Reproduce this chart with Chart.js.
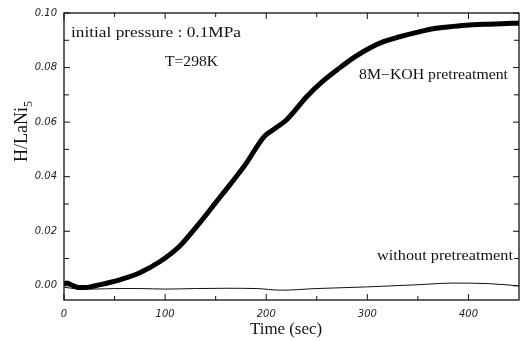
<!DOCTYPE html>
<html>
<head>
<meta charset="utf-8">
<script src="https://cdn.jsdelivr.net/npm/chart.js@4"></script>
<style>
html,body{margin:0;padding:0;background:#fff;}
#wrap{width:520px;height:341px;position:relative;}
</style>
</head>
<body>
<div id="wrap"><canvas id="c" width="520" height="341"></canvas></div>
<script>
// 8M-KOH pretreatment curve
const timeKOH = [0, 3, 8, 14, 20, 26, 32, 45, 55, 75, 95, 114, 134, 150, 164, 180, 198, 210, 220, 240, 256, 272, 288, 302, 316, 332, 350, 368, 385, 401, 420, 443, 450];
const valKOH  = [0.0008, 0.0010, 0.0002, -0.0006, -0.0006, -0.0004, 0.0001, 0.0012, 0.0022, 0.0048, 0.0089, 0.0144, 0.0230, 0.0305, 0.0370, 0.0448, 0.0547, 0.0580, 0.0608, 0.0693, 0.0750, 0.0797, 0.0840, 0.0871, 0.0895, 0.0913, 0.0930, 0.0944, 0.0951, 0.0956, 0.0959, 0.0962, 0.0963];
// without pretreatment curve
const timeNone = [0, 10, 30, 50, 75, 100, 130, 160, 190, 215, 250, 300, 350, 385, 420, 450];
const valNone  = [-0.0005, -0.0010, -0.0012, -0.0010, -0.0010, -0.0012, -0.0010, -0.0009, -0.0010, -0.0016, -0.0010, -0.0004, 0.0004, 0.0010, 0.0008, 0.0000];
// tick labels
const xTicks = [0, 100, 200, 300, 400];
const xMinor = [50, 150, 250, 350];
const yTicks = [0, 0.02, 0.04, 0.06, 0.08, 0.10];
const yMinor = [0.01, 0.03, 0.05, 0.07, 0.09];
const yTickLabels = ['0.00', '0.02', '0.04', '0.06', '0.08', '0.10'];

const toXY = (xs, ys) => xs.map((x, i) => ({x: x, y: ys[i]}));

function drawFit(ctx, text, x, y, width, font) {
  ctx.save();
  ctx.font = font;
  const w = ctx.measureText(text).width;
  ctx.translate(x, y);
  ctx.scale(width / w, 1);
  ctx.textAlign = 'left';
  ctx.textBaseline = 'middle';
  ctx.fillText(text, 0, 0);
  ctx.restore();
}

const decor = {
  id: 'decor',
  afterDraw(chart) {
    const ctx = chart.ctx;
    const a = chart.chartArea;
    const xs = chart.scales.x, ys = chart.scales.y;
    ctx.save();
    ctx.strokeStyle = '#111';
    ctx.lineWidth = 1.3;
    ctx.strokeRect(a.left, a.top, a.right - a.left, a.bottom - a.top);
    ctx.lineWidth = 1;
    const tick = (x1, y1, x2, y2) => { ctx.beginPath(); ctx.moveTo(x1, y1); ctx.lineTo(x2, y2); ctx.stroke(); };
    xTicks.forEach(v => { const p = xs.getPixelForValue(v); tick(p, a.bottom, p, a.bottom - 6); tick(p, a.top, p, a.top + 6); });
    xMinor.forEach(v => { const p = xs.getPixelForValue(v); tick(p, a.bottom, p, a.bottom - 4); tick(p, a.top, p, a.top + 4); });
    yTicks.forEach(v => { const p = ys.getPixelForValue(v); tick(a.left, p, a.left + 6, p); tick(a.right, p, a.right - 6, p); });
    yMinor.forEach(v => { const p = ys.getPixelForValue(v); tick(a.left, p, a.left + 5, p); tick(a.right, p, a.right - 5, p); });
    ctx.fillStyle = '#111';
    drawFit(ctx, 'initial pressure : 0.1MPa', 71, 33, 170, '15px "Liberation Serif"');
    drawFit(ctx, 'T=298K', 165, 62, 53, '15px "Liberation Serif"');
    drawFit(ctx, '8M\u2212KOH pretreatment', 359, 75, 149, '14px "Liberation Serif"');
    drawFit(ctx, 'without pretreatment', 377, 256, 136, '14px "Liberation Serif"');
    drawFit(ctx, 'Time (sec)', 250, 330, 72, '16px "Liberation Serif"');
    // y axis title, rotated
    ctx.save();
    ctx.translate(27, 162);
    ctx.rotate(-Math.PI / 2);
    ctx.font = '18px "Liberation Serif"';
    const main = 'H/LaNi';
    const mw = ctx.measureText(main).width;
    const sx = 55 / mw;
    ctx.save();
    ctx.scale(sx, 1);
    ctx.textAlign = 'left';
    ctx.textBaseline = 'alphabetic';
    ctx.fillText(main, 0, 0);
    ctx.restore();
    ctx.font = '12px "Liberation Serif"';
    ctx.textAlign = 'left';
    ctx.textBaseline = 'alphabetic';
    ctx.fillText('5', 55, 5);
    ctx.restore();
    ctx.restore();
  }
};

new Chart(document.getElementById('c'), {
  type: 'scatter',
  data: {
    datasets: [
      { label: '8M-KOH pretreatment', data: toXY(timeKOH, valKOH), showLine: true, borderColor: '#000', borderWidth: 5, pointRadius: 0, cubicInterpolationMode: 'monotone', borderCapStyle: 'round', borderJoinStyle: 'round' },
      { label: 'without pretreatment', data: toXY(timeNone, valNone), showLine: true, borderColor: '#111', borderWidth: 1, pointRadius: 0, cubicInterpolationMode: 'monotone' }
    ]
  },
  options: {
    responsive: false,
    animation: false,
    devicePixelRatio: 1,
    layout: { padding: { top: 13, right: 1, left: 0, bottom: 0 } },
    plugins: { legend: { display: false }, tooltip: { enabled: false } },
    scales: {
      x: {
        type: 'linear', min: 0, max: 450,
        grid: { display: false, drawTicks: false },
        border: { display: false },
        afterBuildTicks: s => { s.ticks = xTicks.map(v => ({value: v})); },
        afterFit: s => { s.height = 41; },
        ticks: { padding: 8, color: '#222', font: { family: 'DejaVu Sans', size: 10, style: 'italic' }, maxRotation: 0, callback: v => String(v) }
      },
      y: {
        type: 'linear', min: -0.0052, max: 0.1,
        grid: { display: false, drawTicks: false },
        border: { display: false },
        afterBuildTicks: s => { s.ticks = yTicks.map(v => ({value: v})); },
        afterFit: s => { s.width = 64; },
        ticks: { padding: 7, color: '#222', font: { family: 'DejaVu Sans', size: 10, style: 'italic' }, callback: (v, i) => yTickLabels[i] }
      }
    }
  },
  plugins: [decor]
});
</script>
</body>
</html>
